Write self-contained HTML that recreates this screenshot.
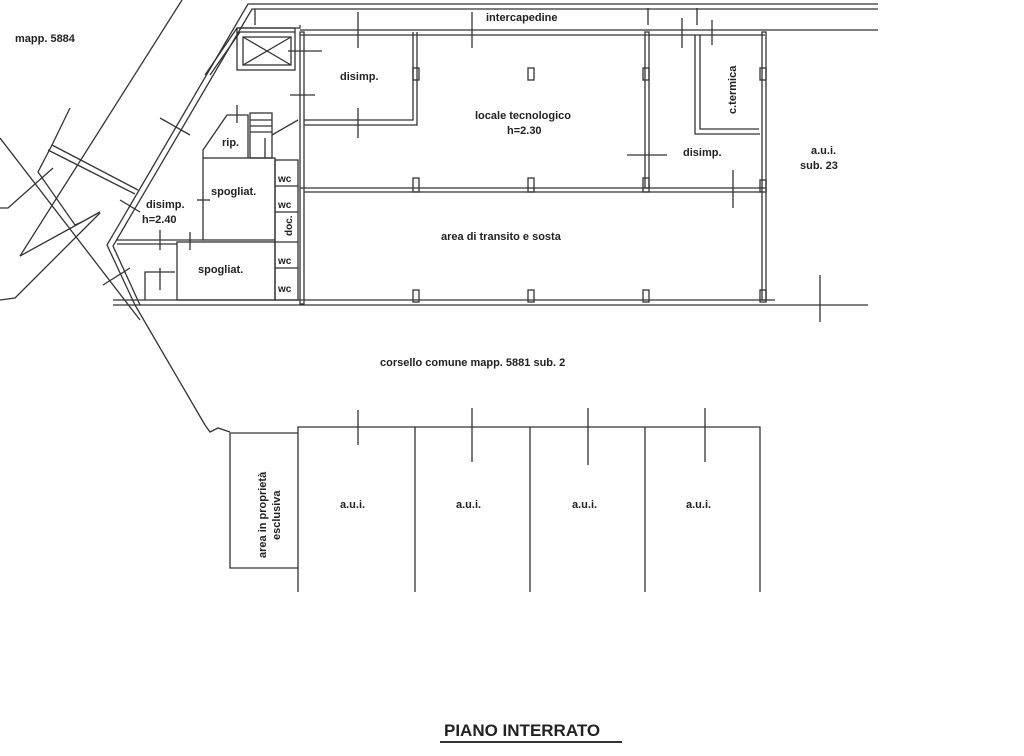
<!DOCTYPE html>
<html><head><meta charset="utf-8"><style>
html,body{margin:0;padding:0;background:#fff;}
svg{display:block;}
text{font-family:"Liberation Sans",sans-serif;font-weight:bold;fill:#222;}
</style></head><body>
<svg width="1024" height="756" viewBox="0 0 1024 756" xmlns="http://www.w3.org/2000/svg">
<g fill="none" stroke="#333" stroke-width="1.3">
<!-- thin site lines -->
<line x1="182" y1="0" x2="20" y2="256"/>
<polyline points="0,300 15,298 100,213"/>
<line x1="0" y1="138" x2="140" y2="320"/>
<polyline points="0,208 8,208 53,168"/>
<polyline points="70,108 52,145 38,172 75,225 82,222"/>
<polyline points="52,145 138,190"/>
<polyline points="48,150 135,194"/>
<line x1="20" y1="256" x2="100" y2="212"/>
<!-- outer diagonal walls -->
<polyline points="878,4 248,4 107,245 135,305"/>
<polyline points="878,9 252,9 113,246 140,305"/>
<line x1="135" y1="305" x2="205" y2="425"/>
<polyline points="205,425 210,432 218,428 230,432"/>
<!-- top intercapedine -->
<line x1="300" y1="30" x2="878" y2="30"/>
<line x1="300" y1="35" x2="765" y2="35"/>
<line x1="255" y1="9" x2="255" y2="25"/>
<!-- lift enclosure -->
<polyline points="300,25 300,28 237,28 205,75"/>
<polyline points="210,75 240,32 295,32"/>
<rect x="237" y="28" width="58" height="42"/>
<rect x="243" y="37" width="48" height="28"/>
<line x1="243" y1="37" x2="291" y2="65"/><line x1="291" y1="37" x2="243" y2="65"/>
<line x1="288" y1="51" x2="322" y2="51"/>
<!-- main building walls -->
<rect x="300" y="32" width="4" height="272"/>
<line x1="113" y1="300" x2="775" y2="300"/>
<line x1="113" y1="305" x2="868" y2="305"/>
<line x1="300" y1="188" x2="766" y2="188"/><line x1="304" y1="192" x2="762" y2="192"/>
<rect x="762" y="32" width="4" height="268"/>
<rect x="645" y="32" width="4" height="156"/>
<polyline points="413,32 413,120 304,120"/><polyline points="417,32 417,125 304,125"/>
<!-- c.termica -->
<polyline points="695,35 695,134 760,134"/><polyline points="700,35 700,129 759,129"/>
<!-- pillars -->
<rect x="413" y="178" width="6" height="14"/><rect x="528" y="178" width="6" height="14"/><rect x="643" y="178" width="6" height="14"/>
<rect x="413" y="290" width="6" height="12"/><rect x="528" y="290" width="6" height="12"/><rect x="643" y="290" width="6" height="12"/>
<rect x="528" y="68" width="6" height="12"/><rect x="413" y="68" width="6" height="12"/><rect x="643" y="68" width="6" height="12"/>
<rect x="760" y="68" width="6" height="12"/><rect x="760" y="180" width="6" height="12"/><rect x="760" y="290" width="6" height="12"/>
<!-- door marks -->
<line x1="358" y1="12" x2="358" y2="48"/><line x1="472" y1="12" x2="472" y2="48"/>
<line x1="648" y1="8" x2="648" y2="25"/><line x1="697" y1="8" x2="697" y2="25"/>
<line x1="682" y1="18" x2="682" y2="48"/><line x1="712" y1="20" x2="712" y2="45"/>
<line x1="358" y1="108" x2="358" y2="138"/><line x1="627" y1="155" x2="667" y2="155"/>
<line x1="733" y1="170" x2="733" y2="208"/><line x1="820" y1="275" x2="820" y2="322"/>
<line x1="290" y1="95" x2="315" y2="95"/>
<line x1="160" y1="118" x2="190" y2="135"/><line x1="120" y1="200" x2="140" y2="212"/>
<line x1="103" y1="285" x2="130" y2="268"/>
<line x1="160" y1="230" x2="160" y2="250"/><line x1="190" y1="232" x2="190" y2="250"/>
<line x1="160" y1="268" x2="160" y2="290"/>
<!-- left small rooms -->
<line x1="117" y1="240" x2="203" y2="240"/><line x1="117" y1="244" x2="177" y2="244"/>
<rect x="203" y="158" width="72" height="82"/>
<rect x="177" y="242" width="98" height="58"/>
<polyline points="145,300 145,272 175,272"/>
<polyline points="203,158 203,150 227,115 248,115 248,158"/>
<rect x="250" y="113" width="22" height="45"/>
<line x1="250" y1="120" x2="272" y2="120"/><line x1="250" y1="126" x2="272" y2="126"/><line x1="250" y1="132" x2="272" y2="132"/>
<line x1="272" y1="135" x2="298" y2="120"/><line x1="265" y1="138" x2="265" y2="158"/>
<rect x="275" y="160" width="23" height="140"/>
<line x1="275" y1="186" x2="298" y2="186"/><line x1="275" y1="212" x2="298" y2="212"/>
<line x1="275" y1="242" x2="298" y2="242"/><line x1="275" y1="268" x2="298" y2="268"/>
<line x1="237" y1="105" x2="237" y2="123"/><line x1="197" y1="200" x2="210" y2="200"/>
<!-- parking -->
<polyline points="298,592 298,427 760,427 760,592"/>
<line x1="415" y1="427" x2="415" y2="592"/><line x1="530" y1="427" x2="530" y2="592"/><line x1="645" y1="427" x2="645" y2="592"/>
<polyline points="298,433 230,433 230,568 298,568"/>
<line x1="358" y1="410" x2="358" y2="445"/><line x1="472" y1="408" x2="472" y2="462"/>
<line x1="588" y1="408" x2="588" y2="465"/><line x1="705" y1="408" x2="705" y2="462"/>
<line x1="440" y1="742" x2="622" y2="742" stroke-width="2"/>
</g>
<g font-size="11">
<text x="15" y="42">mapp. 5884</text>
<text x="486" y="21">intercapedine</text>
<text x="340" y="80">disimp.</text>
<text x="475" y="119">locale tecnologico</text>
<text x="507" y="134">h=2.30</text>
<text x="683" y="156">disimp.</text>
<text x="811" y="154">a.u.i.</text>
<text x="800" y="169">sub. 23</text>
<text x="736" y="114" transform="rotate(-90 736 114)">c.termica</text>
<text x="222" y="146">rip.</text>
<text x="211" y="195">spogliat.</text>
<text x="198" y="273">spogliat.</text>
<text x="146" y="208">disimp.</text>
<text x="142" y="223">h=2.40</text>
<text x="278" y="182" font-size="10">wc</text>
<text x="278" y="208" font-size="10">wc</text>
<text x="278" y="264" font-size="10">wc</text>
<text x="278" y="292" font-size="10">wc</text>
<text x="292" y="236" font-size="10" transform="rotate(-90 292 236)">doc.</text>
<text x="441" y="240">area di transito e sosta</text>
<text x="380" y="366">corsello comune mapp. 5881 sub. 2</text>
<text x="340" y="508">a.u.i.</text><text x="456" y="508">a.u.i.</text>
<text x="572" y="508">a.u.i.</text><text x="686" y="508">a.u.i.</text>
<text x="266" y="558" transform="rotate(-90 266 558)">area in proprietà</text>
<text x="280" y="540" transform="rotate(-90 280 540)">esclusiva</text>
<text x="444" y="736" font-size="17" font-weight="normal">PIANO INTERRATO</text>
</g>
</svg>
</body></html>
